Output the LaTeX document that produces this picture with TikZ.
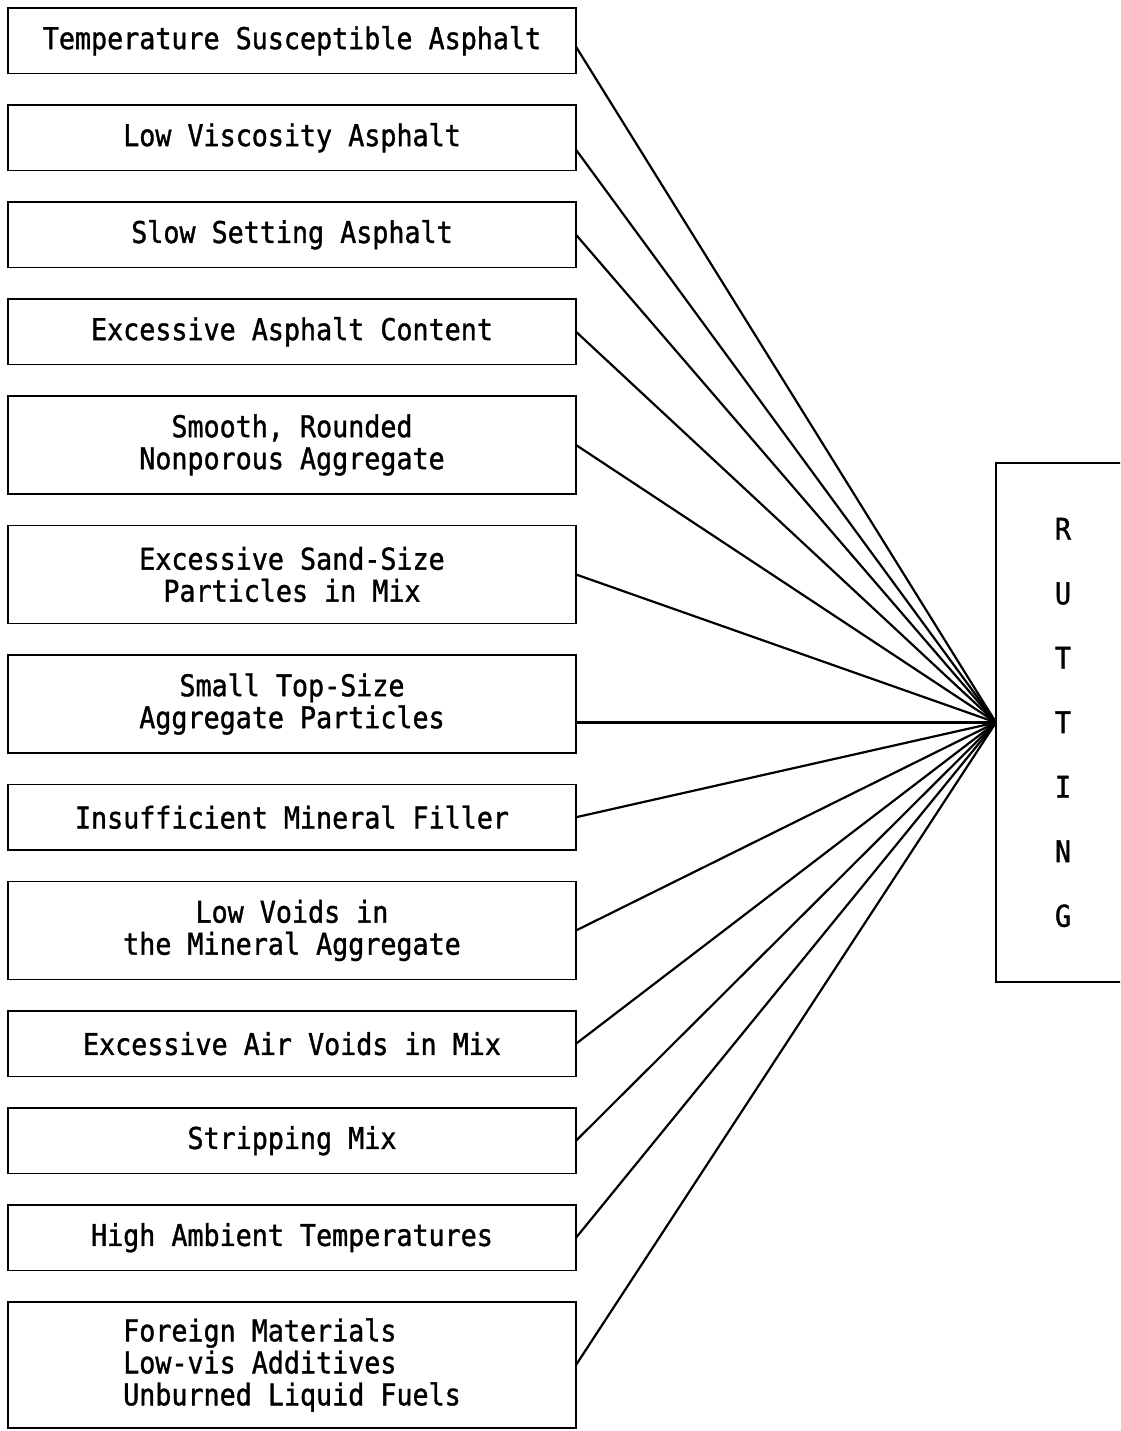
\documentclass[tikz,border=0pt]{standalone}
\usepackage{fontspec}
\newfontfamily\gothic[FakeStretch=0.89,FakeBold=1.2]{DejaVu Sans Mono}
\usetikzlibrary{positioning}
\tikzset{
	node distance=31.5pt,
	cause/.style = {draw, line width=1.8pt, outer sep=0pt, minimum width=568pt, minimum height=65.5pt,
		inner sep=0pt, align=center, font=\gothic\fontsize{30}{32}\selectfont},
	tall/.style = {minimum height=98pt}
}

\begin{document}
\begin{tikzpicture}[x=1pt,y=1pt,line width=2.2pt]
	\clip (0,0) rectangle (1120,1431);
	\node[cause] (temp) at (292,1390.25) {Temperature Susceptible Asphalt};
	\node[cause] (visc) [below=of temp] {Low Viscosity Asphalt};
	\node[cause] (slow) [below=of visc] {Slow Setting Asphalt};
	\node[cause] (content) [below=of slow] {Excessive Asphalt Content};
	\node[cause,tall] (smooth) [below=of content] {Smooth, Rounded\\Nonporous Aggregate};
	\node[cause,tall] (sand) [below=of smooth] {Excessive Sand-Size\\Particles in Mix};
	\node[cause,tall] (topsize) [below=of sand] {Small Top-Size\\Aggregate Particles};
	\node[cause] (filler) [below=of topsize] {Insufficient Mineral Filler};
	\node[cause,tall] (vma) [below=of filler] {Low Voids in\\the Mineral Aggregate};
	\node[cause] (air) [below=of vma] {Excessive Air Voids in Mix};
	\node[cause] (strip) [below=of air] {Stripping Mix};
	\node[cause] (ambient) [below=of strip] {High Ambient Temperatures};
	\node[cause, minimum height=126pt, align=left] (foreign) [below=of ambient]
		{Foreign Materials\\Low-vis Additives\\Unburned Liquid Fuels};
	\node[draw, line width=1.8pt, outer sep=0pt, minimum width=134pt, minimum height=519pt, inner sep=0pt,
		align=center, font=\gothic\fontsize{30}{64.5}\selectfont, anchor=west]
		(rut) at (996,708.5) {R\\U\\T\\T\\I\\N\\G};
	\draw ([yshift=-6pt]temp.east) -- (rut.west);
	\draw ([yshift=-12pt]visc.east) -- (rut.west);
	\draw (slow.east) -- (rut.west);
	\draw (content.east) -- (rut.west);
	\draw (smooth.east) -- (rut.west);
	\draw (sand.east) -- (rut.west);
	\draw (rut.west -| topsize.east) -- (rut.west);
	\draw (filler.east) -- (rut.west);
	\draw (vma.east) -- (rut.west);
	\draw (air.east) -- (rut.west);
	\draw (strip.east) -- (rut.west);
	\draw (ambient.east) -- (rut.west);
	\draw (foreign.east) -- (rut.west);
\end{tikzpicture}
\end{document}
